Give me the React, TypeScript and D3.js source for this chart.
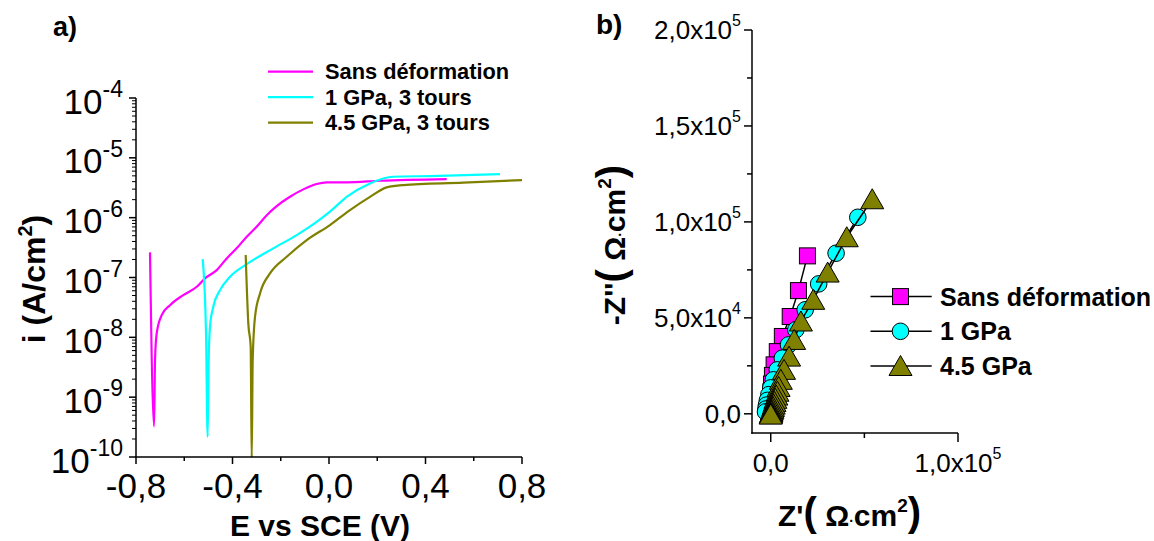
import React from 'react';
import * as d3 from 'd3';

// ---------- Panel a) polarisation curves ----------
const legendA = ['Sans déformation', '1 GPa, 3 tours', '4.5 GPa, 3 tours'];
const colorsA = ['#ff00ff', '#00ffff', '#808000'];

const eSans = [-0.742, -0.725, -0.7212, -0.7143, -0.6935, -0.659, -0.604, -0.548, -0.514, -0.4655, -0.424, -0.383, -0.341, -0.300, -0.258, -0.2168, -0.1617, -0.1065, -0.051, -0.0095, 0.0734, 0.2114, 0.4879];
const iSans = [2.63e-7, 3.24e-10, 4.16e-9, 1.16e-8, 2.35e-8, 3.45e-8, 5.08e-8, 7.0e-8, 9.66e-8, 1.33e-7, 2.08e-7, 3.07e-7, 4.8e-7, 7.05e-7, 1.10e-6, 1.56e-6, 2.24e-6, 2.97e-6, 3.65e-6, 3.89e-6, 3.89e-6, 4.14e-6, 4.42e-6];

const e1GPa = [-0.5235, -0.5098, -0.503, -0.4987, -0.4933, -0.4796, -0.4518, -0.4104, -0.3411, -0.2309, -0.1339, -0.051, 0.0041, 0.0734, 0.170, 0.2665, 0.4187, 0.7088];
const i1GPa = [2.03e-7, 1.16e-8, 2.17e-10, 4.16e-9, 1.5e-8, 3.24e-8, 6.15e-8, 1.03e-7, 1.67e-7, 3.07e-7, 5.12e-7, 8.53e-7, 1.26e-6, 2.23e-6, 3.74e-6, 4.83e-6, 4.96e-6, 5.36e-6];

const e45GPa = [-0.3453, -0.3345, -0.3246, -0.3204, -0.3163, -0.3067, -0.286, -0.2446, -0.1753, -0.0924, 0.0041, 0.087, 0.170, 0.2391, 0.308, 0.5567, 0.8029];
const i45GPa = [2.37e-7, 1.71e-8, 6.93e-9, 9.0e-11, 4.16e-9, 2.2e-8, 5.42e-8, 1.17e-7, 2.22e-7, 4.22e-7, 7.52e-7, 1.34e-6, 2.23e-6, 3.21e-6, 3.51e-6, 3.84e-6, 4.26e-6];

const xTicksA = [-0.8, -0.4, 0, 0.4, 0.8];
const xMinorA = [-0.6, -0.2, 0.2, 0.6];
const yExpA = [-10, -9, -8, -7, -6, -5, -4];

// ---------- Panel b) Nyquist ----------
const legendB = ['Sans déformation', '1 GPa', '4.5 GPa'];
const fillB = ['#ff00ff', '#00ffff', '#808000'];

const zReSans = [19600, 14800, 10400, 6200, 3500, 1800, 900, 400, 100, -100, -200, -300, -300];
const zImSans = [82300, 64200, 50700, 40300, 32400, 25500, 20000, 15500, 11500, 8000, 5000, 2500, 800];

const zRe1GPa = [46500, 34900, 25600, 18400, 13400, 9500, 6200, 3500, 1400, 0, -1000, -1800, -2300, -2600, -2800];
const zIm1GPa = [102400, 83700, 67700, 54200, 43800, 35900, 29000, 22900, 17700, 13500, 10000, 7000, 4500, 2500, 1000];

const zRe45GPa = [54200, 40600, 30400, 22700, 16100, 12500, 9800, 7100, 5400, 4200, 3600, 3000, 2500, 2000, 1600, 1200, 900, 600, 400, 200, 100, 0, 0];
const zIm45GPa = [111800, 92000, 73600, 59400, 48100, 38500, 29800, 22900, 17700, 14000, 11500, 9500, 7800, 6200, 4800, 3600, 2600, 1700, 1000, 500, 100, -200, -400];

const yTicksB = [0, 50000, 100000, 150000, 200000];
const yMinorB = [25000, 75000, 125000, 175000];
const xTicksB = [0, 100000];
const xMinorB = [50000];

const FONT = 'Liberation Sans, Arial, Helvetica, sans-serif';

function sci(v: number) {
  if (v === 0) return { m: '0,0', e: '' };
  const e = Math.floor(Math.log10(v) + 1e-9);
  const m = (v / Math.pow(10, e)).toFixed(1).replace('.', ',');
  return { m: m + 'x10', e: String(e) };
}

export default function App() {
  // scales panel a
  const xA = d3.scaleLinear().domain([-0.8, 0.8]).range([136, 522]);
  const yA = d3.scaleLog().domain([1e-10, 1e-4]).range([457, 98]);
  const lineA = d3
    .line<[number, number]>()
    .x((d) => xA(d[0]))
    .y((d) => yA(d[1]))
    .curve(d3.curveMonotoneX);
  const seriesA = [
    d3.zip(eSans, iSans) as [number, number][],
    d3.zip(e1GPa, i1GPa) as [number, number][],
    d3.zip(e45GPa, i45GPa) as [number, number][],
  ];
  const yMinorA: number[] = [];
  for (let d = -10; d < -4; d++) for (let k = 2; k <= 9; k++) yMinorA.push(k * Math.pow(10, d));

  // scales panel b
  const xB = d3.scaleLinear().domain([-10000, 100000]).range([752, 958]);
  const yB = d3.scaleLinear().domain([-10000, 200000]).range([433, 30]);
  const lineB = d3
    .line<[number, number]>()
    .x((d) => xB(d[0]))
    .y((d) => yB(d[1]));
  const seriesB = [
    d3.zip(zReSans, zImSans) as [number, number][],
    d3.zip(zRe1GPa, zIm1GPa) as [number, number][],
    d3.zip(zRe45GPa, zIm45GPa) as [number, number][],
  ];

  const marker = (k: number, cx: number, cy: number, key: string) => {
    if (k === 0)
      return <rect key={key} x={cx - 8} y={cy - 8} width={16} height={16} fill={fillB[0]} stroke="#000" strokeWidth={1} />;
    if (k === 1) return <circle key={key} cx={cx} cy={cy} r={8.3} fill={fillB[1]} stroke="#000" strokeWidth={1} />;
    return (
      <path
        key={key}
        d={`M${cx},${cy - 10.5}L${cx + 11.5},${cy + 9.5}L${cx - 11.5},${cy + 9.5}Z`}
        fill={fillB[2]}
        stroke="#000"
        strokeWidth={1}
      />
    );
  };

  return (
    <svg
      width={1154}
      height={541}
      style={{ position: 'absolute', left: 0, top: 0, background: '#fff' }}
      fontFamily={FONT}
    >
      <defs>
        <clipPath id="clipA">
          <rect x={136} y={98} width={386} height={359} />
        </clipPath>
      </defs>

      {/* ---------------- Panel a ---------------- */}
      <text x={53} y={36} fontSize={27} fontWeight="bold">a)</text>

      {/* curves */}
      <g clipPath="url(#clipA)">
        {seriesA.map((s, k) => (
          <path key={k} d={lineA(s) || ''} fill="none" stroke={colorsA[k]} strokeWidth={2.2} strokeLinejoin="round" />
        ))}
      </g>

      {/* axes */}
      <line x1={136} y1={98} x2={136} y2={457.5} stroke="#000" strokeWidth={1.5} />
      <line x1={135.25} y1={457} x2={522} y2={457} stroke="#000" strokeWidth={1.5} />
      {xTicksA.map((t) => (
        <g key={'xa' + t}>
          <line x1={xA(t)} x2={xA(t)} y1={457} y2={464} stroke="#000" strokeWidth={1.5} />
          <text x={xA(t)} y={498} fontSize={35} textAnchor="middle">
            {d3.format('.1f')(t).replace('.', ',').replace('−', '-')}
          </text>
        </g>
      ))}
      {xMinorA.map((t) => (
        <line key={'xam' + t} x1={xA(t)} x2={xA(t)} y1={457} y2={461} stroke="#000" strokeWidth={1.5} />
      ))}
      {yExpA.map((e) => (
        <g key={'ya' + e}>
          <line x1={129} x2={136} y1={yA(Math.pow(10, e))} y2={yA(Math.pow(10, e))} stroke="#000" strokeWidth={1.5} />
          <text x={123} y={yA(Math.pow(10, e)) + 15.5} fontSize={35} textAnchor="end">
            10
            <tspan fontSize={23} dy={-16.5}>{String(e)}</tspan>
          </text>
        </g>
      ))}
      {yMinorA.map((v, j) => (
        <line key={'yam' + j} x1={132} x2={136} y1={yA(v)} y2={yA(v)} stroke="#000" strokeWidth={1} />
      ))}

      <text x={320} y={536} fontSize={30} fontWeight="bold" textAnchor="middle">E vs SCE (V)</text>
      <text transform="translate(45,279) rotate(-90)" fontSize={32} fontWeight="bold" textAnchor="middle">
        i (A/cm<tspan fontSize={20} dy={-13}>2</tspan><tspan dy={13}>)</tspan>
      </text>

      {/* legend a */}
      {legendA.map((name, k) => {
        const ly = 71.7 + k * 25.5;
        return (
          <g key={'la' + k}>
            <line x1={268} x2={313} y1={ly} y2={ly} stroke={colorsA[k]} strokeWidth={2.2} />
            <text x={325} y={ly + 7.5} fontSize={21.8} fontWeight="bold">{name}</text>
          </g>
        );
      })}

      {/* ---------------- Panel b ---------------- */}
      <text x={596} y={34} fontSize={28} fontWeight="bold">b)</text>

      <line x1={752} y1={30} x2={752} y2={433.75} stroke="#000" strokeWidth={1.5} />
      <line x1={751.25} y1={433} x2={958} y2={433} stroke="#000" strokeWidth={1.5} />
      {yTicksB.map((t) => {
        const s = sci(t);
        return (
          <g key={'yb' + t}>
            <line x1={744} x2={752} y1={yB(t)} y2={yB(t)} stroke="#000" strokeWidth={1.5} />
            <text x={741} y={yB(t) + 9} fontSize={26} textAnchor="end">
              {s.m}
              {s.e && <tspan fontSize={16} dy={-13}>{s.e}</tspan>}
            </text>
          </g>
        );
      })}
      {yMinorB.map((t) => (
        <line key={'ybm' + t} x1={747} x2={752} y1={yB(t)} y2={yB(t)} stroke="#000" strokeWidth={1.5} />
      ))}
      {xTicksB.map((t) => {
        const s = sci(t);
        return (
          <g key={'xb' + t}>
            <line x1={xB(t)} x2={xB(t)} y1={433} y2={442} stroke="#000" strokeWidth={1.5} />
            <text x={xB(t)} y={472} fontSize={26} textAnchor="middle">
              {s.m}
              {s.e && <tspan fontSize={16} dy={-13}>{s.e}</tspan>}
            </text>
          </g>
        );
      })}
      {xMinorB.map((t) => (
        <line key={'xbm' + t} x1={xB(t)} x2={xB(t)} y1={433} y2={438} stroke="#000" strokeWidth={1.5} />
      ))}

      {/* series b */}
      {seriesB.map((s, k) => (
        <g key={'sb' + k}>
          <path d={lineB(s) || ''} fill="none" stroke="#000" strokeWidth={1.5} />
          {s.map((p, j) => marker(k, xB(p[0]), yB(p[1]), 'm' + k + '-' + j))}
        </g>
      ))}

      {/* titles b */}
      <text x={778} y={526} fontSize={30} fontWeight="bold">
        Z'<tspan fontSize={40}>(</tspan> Ω<tspan fontSize={14}>·</tspan>cm
        <tspan fontSize={19} dy={-14}>2</tspan>
        <tspan fontSize={40} dy={14}>)</tspan>
      </text>
      <text transform="translate(625,245) rotate(-90)" fontSize={30} fontWeight="bold" textAnchor="middle">
        -Z''<tspan fontSize={40}>(</tspan> Ω<tspan fontSize={14}>·</tspan>cm
        <tspan fontSize={19} dy={-14}>2</tspan>
        <tspan fontSize={40} dy={14}>)</tspan>
      </text>

      {/* legend b */}
      {legendB.map((name, k) => {
        const ly = 296.6 + k * 34.7;
        return (
          <g key={'lb' + k}>
            <line x1={870.5} x2={931.7} y1={ly} y2={ly} stroke="#000" strokeWidth={1.5} />
            {marker(k, 900.5, ly, 'lm' + k)}
            <text x={940} y={ly + 9} fontSize={25} fontWeight="bold">{name}</text>
          </g>
        );
      })}
    </svg>
  );
}
